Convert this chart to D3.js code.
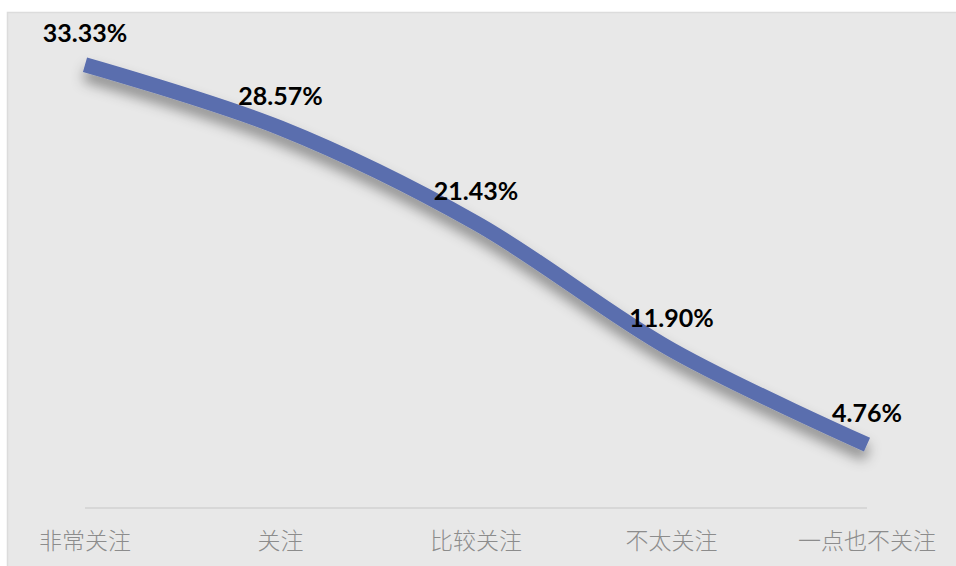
<!DOCTYPE html>
<html><head><meta charset="utf-8">
<script src="https://cdn.jsdelivr.net/npm/d3@7"></script>
<style>html,body{margin:0;padding:0;background:#fff;}svg{display:block;}</style>
</head><body>
<svg id="chart" width="956" height="566"></svg>
<script>
const categories = ["非常关注", "关注", "比较关注", "不太关注", "一点也不关注"];
const values = [33.33, 28.57, 21.43, 11.90, 4.76];
const labels = ["33.33%", "28.57%", "21.43%", "11.90%", "4.76%"];

const W = 956, H = 566;
const svg = d3.select("#chart");
const defs = svg.append("defs");
const f = defs.append("filter").attr("id", "sh").attr("x", "-10%").attr("y", "-20%").attr("width", "120%").attr("height", "170%");
f.append("feDropShadow").attr("dx", 0).attr("dy", 9).attr("stdDeviation", 6.5)
  .attr("flood-color", "#000").attr("flood-opacity", 0.4);

// panel
svg.append("rect").attr("x", 7.5).attr("y", 12.5).attr("width", W).attr("height", H)
  .attr("fill", "#e8e8e8").attr("stroke", "#dcdcdc").attr("stroke-width", 1.5);

const x = d3.scalePoint().domain(categories).range([85, 867]);
const y = d3.scaleLinear().domain([0, 35]).range([508, 42.5]);

// axis line
svg.append("line").attr("x1", x(categories[0])).attr("x2", x(categories[categories.length - 1]))
  .attr("y1", y(0)).attr("y2", y(0)).attr("stroke", "#d2d2d2").attr("stroke-width", 1.5);

// axis labels
svg.append("g").selectAll("text").data(categories).join("text")
  .attr("x", d => x(d)).attr("y", 549)
  .attr("text-anchor", "middle")
  .attr("font-family", "'Noto Sans CJK SC', sans-serif")
  .attr("font-weight", 300)
  .attr("font-size", 23).attr("fill", "#8c8c8c")
  .text(d => d);

const data = categories.map((c, i) => ({ c, v: values[i], l: labels[i] }));
const line = d3.line().x(d => x(d.c)).y(d => y(d.v)).curve(d3.curveCatmullRom.alpha(0.5));

svg.append("path").datum(data).attr("d", line)
  .attr("fill", "none").attr("stroke", "#5a6eae").attr("stroke-width", 15)
  .attr("stroke-linecap", "butt").attr("filter", "url(#sh)");

svg.append("g").selectAll("text").data(data).join("text")
  .attr("x", d => x(d.c)).attr("y", d => y(d.v) - 23)
  .attr("text-anchor", "middle")
  .attr("font-family", "Lato, 'Open Sans', sans-serif")
  .attr("font-weight", 700).attr("font-size", 25).attr("fill", "#000")
  .text(d => d.l);
</script>
</body></html>
